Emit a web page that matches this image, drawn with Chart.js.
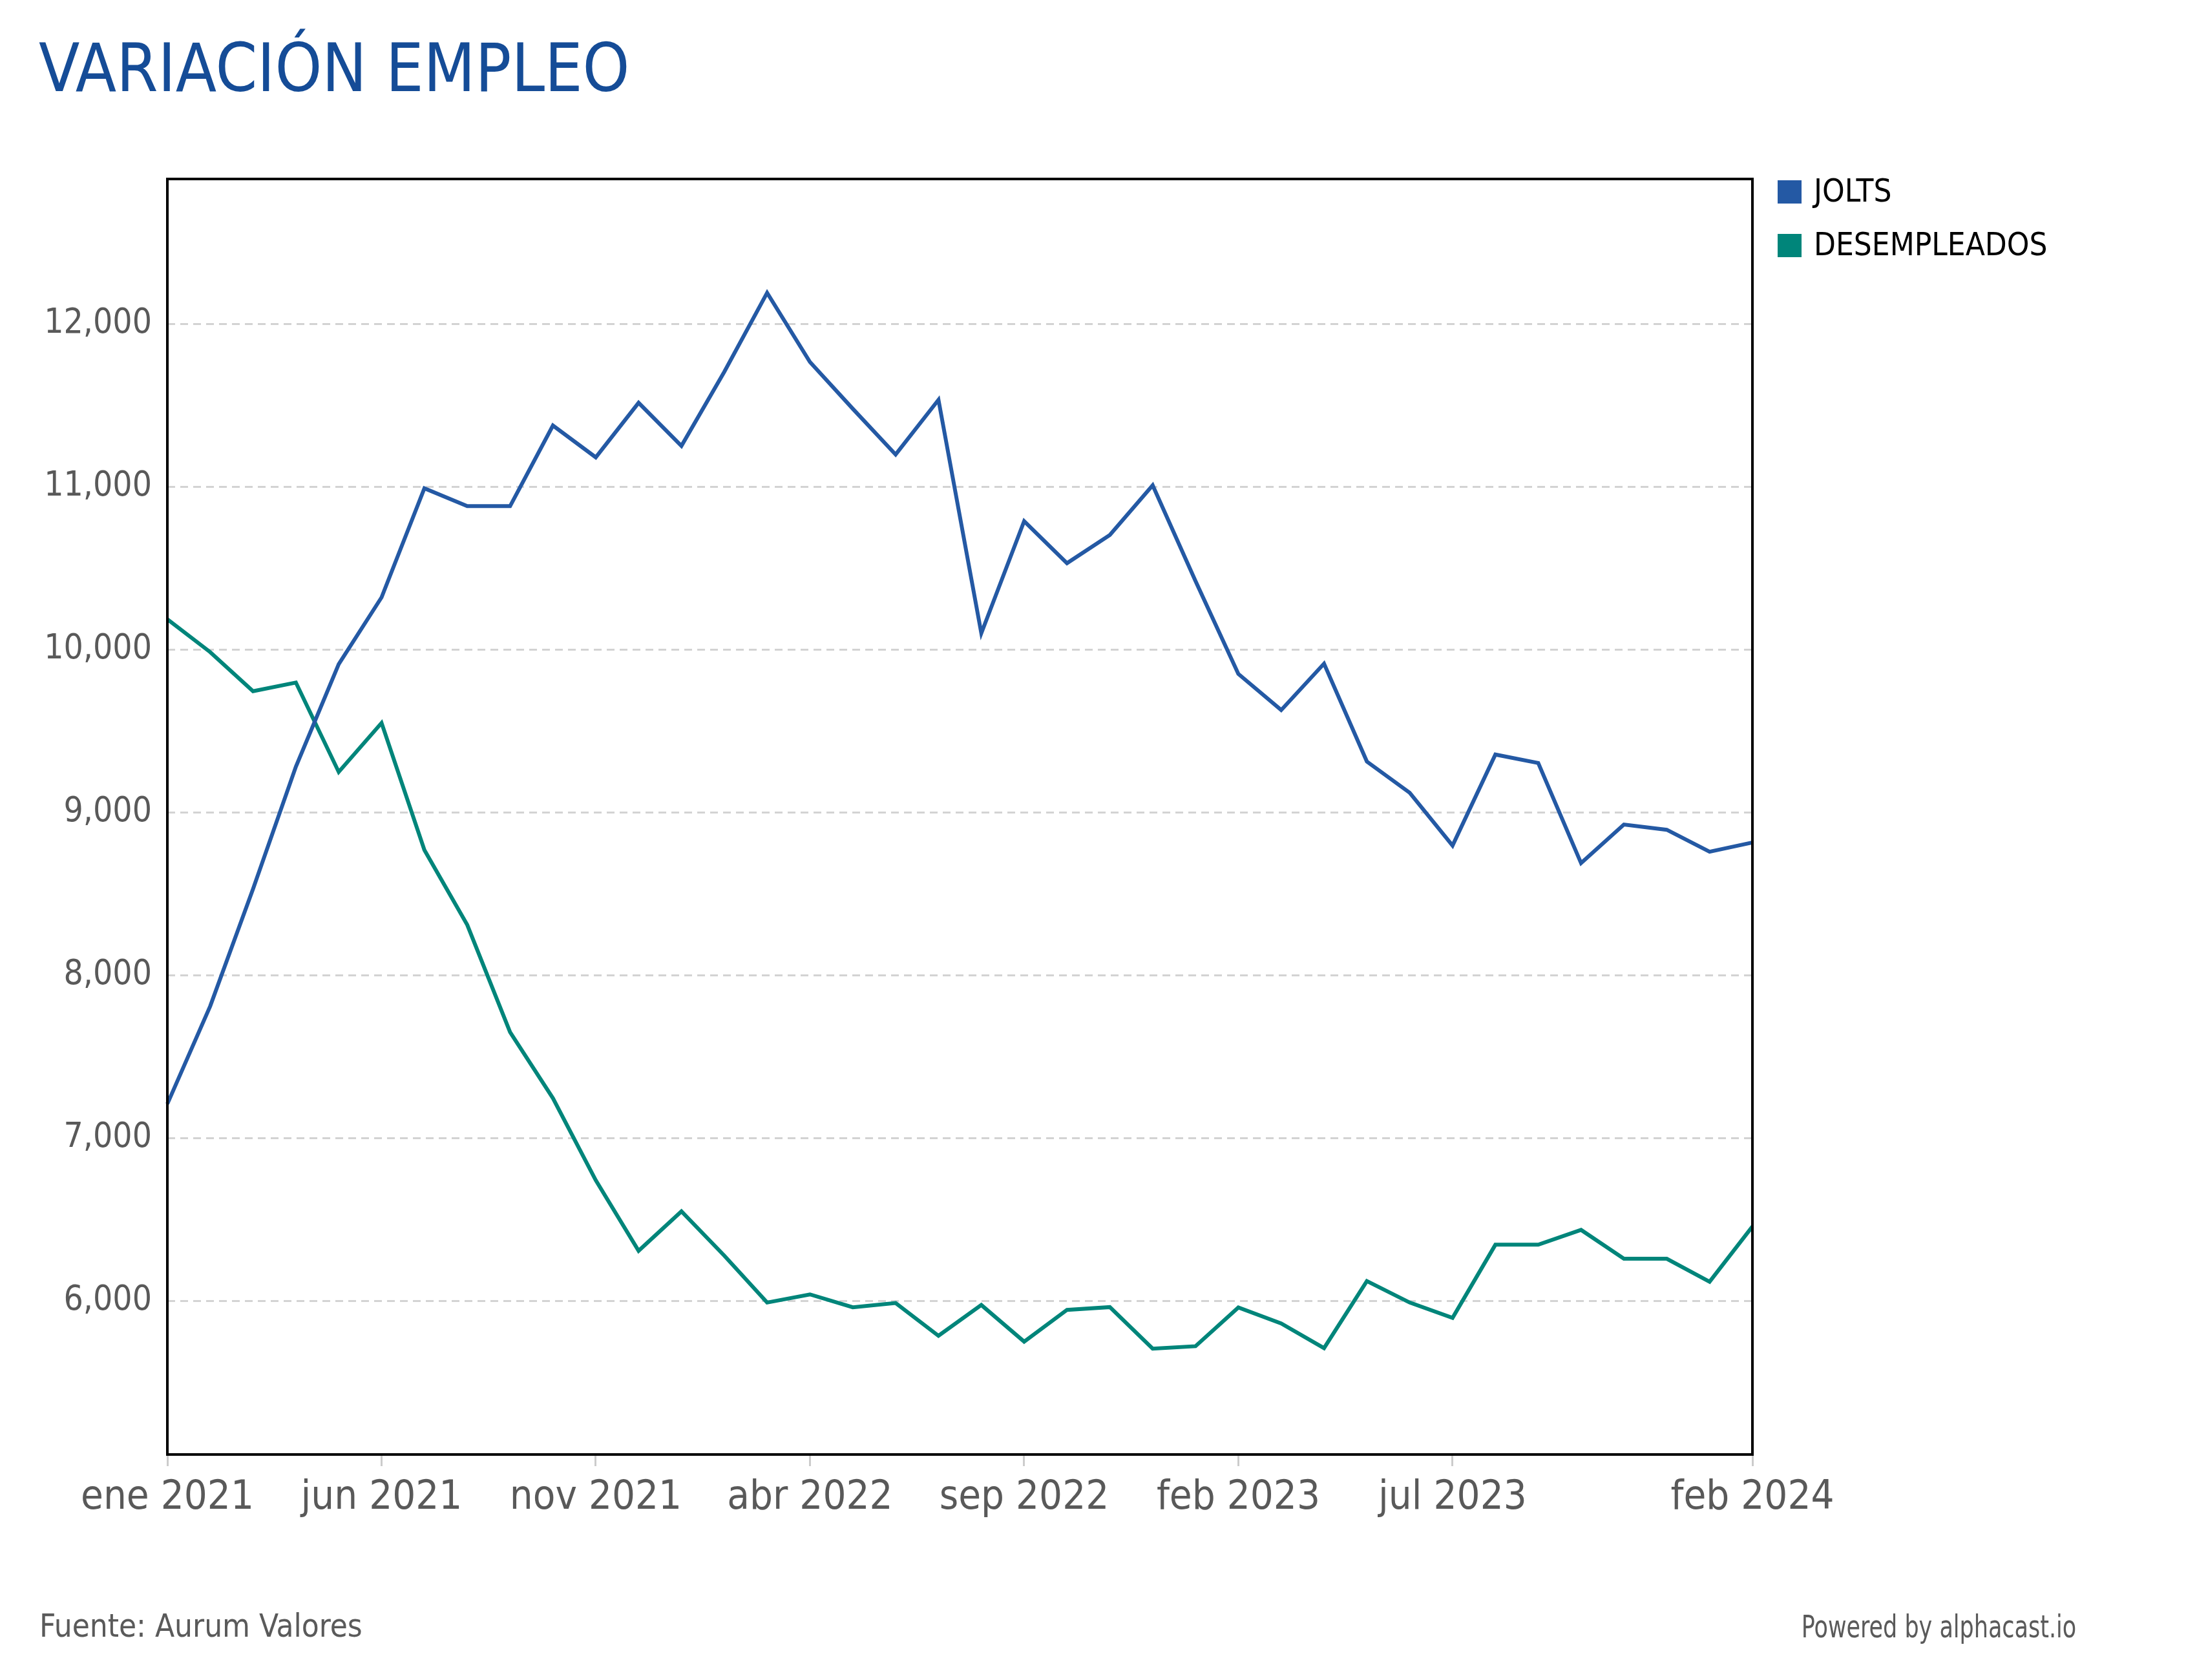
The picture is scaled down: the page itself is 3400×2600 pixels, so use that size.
<!DOCTYPE html>
<html>
<head>
<meta charset="utf-8">
<script src="https://cdn.jsdelivr.net/npm/chart.js@4.4.1/dist/chart.umd.min.js"></script>
<style>
  html, body { margin: 0; padding: 0; background: #fff; }
  .wrap { position: relative; width: 3400px; height: 2600px; }
  .titulo { position: absolute; left: 60px; top: 54px; font-family: 'DejaVu Sans Condensed', 'DejaVu Sans', sans-serif; font-stretch: condensed; font-size: 103px; line-height: 103px; color: #154c97; white-space: nowrap; }
  .pie { position: absolute; font-family: 'DejaVu Sans Condensed', 'DejaVu Sans', sans-serif; font-stretch: condensed; color: #5a5a5a; white-space: nowrap; }
  .powered { transform: scaleX(0.81); transform-origin: right center; }
  canvas { position: absolute; left: 0; top: 0; }
</style>
</head>
<body>
<div class="wrap">
  <canvas id="myChart" width="3400" height="2600"></canvas>
  <div class="titulo">VARIACIÓN EMPLEO</div>
  <div class="pie" style="left: 61px; top: 2492px; font-size: 49px; line-height: 49px;">Fuente: Aurum Valores</div>
  <div class="pie powered" style="right: 187px; top: 2493px; font-size: 48px; line-height: 48px;">Powered by alphacast.io</div>
</div>
<script>
const meses = [
  'ene 2021', 'feb 2021', 'mar 2021', 'abr 2021', 'may 2021', 'jun 2021', 'jul 2021', 'ago 2021', 'sep 2021', 'oct 2021', 'nov 2021', 'dic 2021',
  'ene 2022', 'feb 2022', 'mar 2022', 'abr 2022', 'may 2022', 'jun 2022', 'jul 2022', 'ago 2022', 'sep 2022', 'oct 2022', 'nov 2022', 'dic 2022',
  'ene 2023', 'feb 2023', 'mar 2023', 'abr 2023', 'may 2023', 'jun 2023', 'jul 2023', 'ago 2023', 'sep 2023', 'oct 2023', 'nov 2023', 'dic 2023',
  'ene 2024', 'feb 2024'
];
const jolts = [7210, 7810, 8530, 9280, 9910, 10320, 10990, 10880, 10880, 11375, 11180, 11515,
  11250, 11705, 12190, 11765, 11478, 11197, 11533, 10100, 10788, 10530, 10703, 11008,
  10420, 9850, 9628, 9913, 9312, 9120, 8796, 9355, 9303, 8688, 8925, 8893,
  8758, 8815];
const desempleados = [10186, 9984, 9744, 9797, 9248, 9549, 8769, 8309, 7650, 7245, 6741, 6308,
  6550, 6278, 5990, 6040, 5961, 5987, 5786, 5975, 5750, 5945, 5962, 5707,
  5722, 5960, 5862, 5710, 6122, 5990, 5896, 6345, 6345, 6436, 6259, 6259,
  6118, 6457];
const etiquetasX = ['ene 2021', 'jun 2021', 'nov 2021', 'abr 2022', 'sep 2022', 'feb 2023', 'jul 2023', 'feb 2024'];
const ticksY = [6000, 7000, 8000, 9000, 10000, 11000, 12000];

const fuente = "'DejaVu Sans Condensed', 'DejaVu Sans', sans-serif";
Chart.defaults.font.family = fuente;

// marco negro alrededor del area del grafico
const marco = {
  id: 'marco',
  afterDatasetsDraw(chart) {
    const { ctx, chartArea: a } = chart;
    ctx.save();
    ctx.strokeStyle = '#000';
    ctx.lineWidth = 4;
    ctx.strokeRect(a.left, a.top, a.right - a.left, a.bottom - a.top);
    ctx.restore();
  }
};

// leyenda a la derecha, arriba
const leyenda = {
  id: 'leyenda',
  afterDraw(chart) {
    const { ctx, chartArea: a } = chart;
    ctx.save();
    chart.data.datasets.forEach((ds, i) => {
      const x = a.right + 39;
      const y = a.top + 2 + i * 83;
      ctx.fillStyle = ds.borderColor;
      ctx.fillRect(x, y, 37, 36);
      ctx.fillStyle = '#000';
      ctx.font = '49px ' + fuente;
      ctx.textBaseline = 'alphabetic';
      ctx.fillText(ds.label, x + 56, y + 33);
    });
    ctx.restore();
  }
};

const criarGrafico = () => {
  const ctx = document.getElementById('myChart').getContext('2d');
  const myChart = new Chart(ctx, {
    type: 'line',
    data: {
      labels: meses,
      datasets: [{
        label: 'JOLTS',
        data: jolts,
        borderColor: '#2459a4',
        borderWidth: 6,
        pointRadius: 0,
        tension: 0
      }, {
        label: 'DESEMPLEADOS',
        data: desempleados,
        borderColor: '#00857a',
        borderWidth: 6,
        pointRadius: 0,
        tension: 0
      }]
    },
    options: {
      responsive: false,
      animation: false,
      devicePixelRatio: 1,
      layout: {
        padding: { top: 277, right: 688, bottom: 0, left: 0 }
      },
      plugins: {
        legend: { display: false },
        tooltip: { enabled: false }
      },
      scales: {
        x: {
          afterFit: (s) => { s.height = 349; },
          afterBuildTicks: (s) => {
            s.ticks = s.ticks.filter(t => etiquetasX.includes(meses[t.value]));
          },
          grid: {
            drawOnChartArea: false,
            drawTicks: true,
            tickLength: 18,
            color: '#cccccc',
            lineWidth: 3
          },
          border: { display: false },
          ticks: {
            autoSkip: false,
            maxRotation: 0,
            padding: 12,
            color: '#595959',
            font: { size: 63 }
          }
        },
        y: {
          min: 5057,
          max: 12889,
          afterFit: (s) => { s.width = 259; },
          afterBuildTicks: (s) => {
            s.ticks = ticksY.map(v => ({ value: v }));
          },
          grid: {
            drawTicks: false,
            color: '#d3d3d3',
            lineWidth: 3
          },
          border: { display: false, dash: [12, 8] },
          ticks: {
            padding: 24,
            color: '#595959',
            font: { size: 53 },
            callback: (v) => v.toLocaleString('en-US')
          }
        }
      }
    },
    plugins: [marco, leyenda]
  });
}

criarGrafico()
</script>
</body>
</html>
